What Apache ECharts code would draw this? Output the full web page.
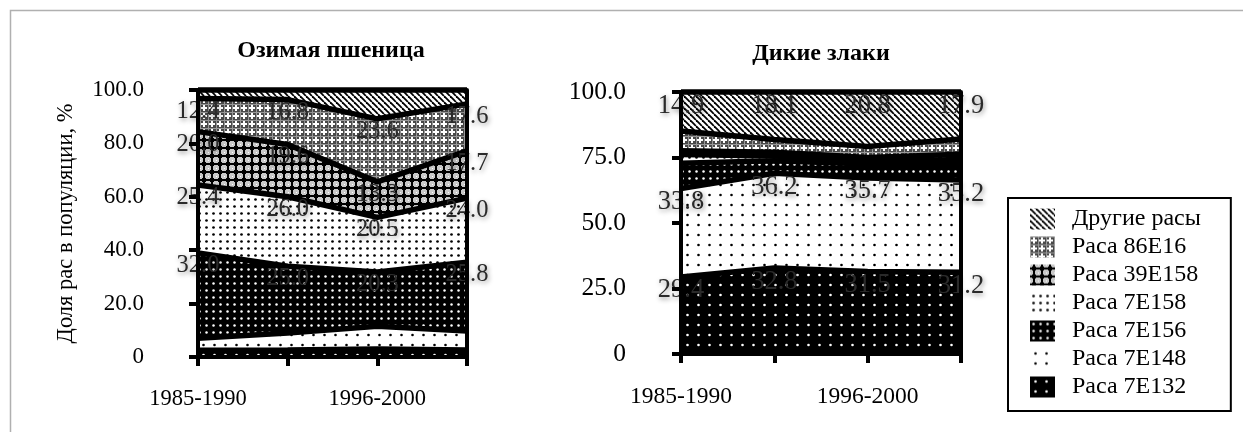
<!DOCTYPE html>
<html>
<head>
<meta charset="utf-8">
<script src="https://cdn.jsdelivr.net/npm/echarts@6/dist/echarts.min.js"></script>
<style>
html,body{margin:0;padding:0;background:#fff;}
#chart{width:1243px;height:432px;}
</style>
</head>
<body>
<div id="chart"></div>
<script>
// ---- data ----
const categories = ['1985-1990', '1991-1995', '1996-2000', '2001-2005'];
const seriesNames = ['Раса 7E132', 'Раса 7E148', 'Раса 7E156', 'Раса 7E158', 'Раса 39E158', 'Раса 86E16', 'Другие расы'];
const legendOrder = ['Другие расы', 'Раса 86E16', 'Раса 39E158', 'Раса 7E158', 'Раса 7E156', 'Раса 7E148', 'Раса 7E132'];

// Озимая пшеница
const wheat7E132 = [2.5, 2.6, 3.0, 2.6];
const wheat7E148 = [4.5, 6.4, 8.5, 7.1];
const wheat7E156 = [32.0, 25.0, 20.3, 25.8];
const wheat7E158 = [25.4, 26.0, 20.5, 24.0];
const wheat39E158 = [20.0, 19.6, 13.3, 17.7];
const wheat86E16 = [12.4, 16.8, 23.6, 17.6];
const wheatOther = [3.2, 3.6, 10.8, 5.2];

// Дикие злаки
const wild7E132 = [29.4, 32.8, 31.5, 31.2];
const wild7E148 = [33.8, 36.2, 35.7, 35.2];
const wild7E156 = [9.6, 4.8, 5.3, 5.8];
const wild7E158 = [3.3, 1.8, 1.0, 2.0];
const wild39E158 = [1.5, 1.4, 1.5, 2.0];
const wild86E16 = [7.5, 4.9, 4.2, 5.9];
const wildOther = [14.9, 18.1, 20.8, 17.9];

const leftTicks = [0, 20, 40, 60, 80, 100];
const rightTicks = [0, 25, 50, 75, 100];

const titleLeft = 'Озимая пшеница';
const titleRight = 'Дикие злаки';
const yName = 'Доля рас в популяции, %';

// ---- patterns ----
function pat(w, h, draw) {
  const c = document.createElement('canvas');
  c.width = w; c.height = h;
  const g = c.getContext('2d');
  draw(g, w, h);
  return { image: c, repeat: 'repeat' };
}
function dots(bg, fg, w, h, r, pts) {
  return pat(w, h, (g) => {
    g.fillStyle = bg; g.fillRect(0, 0, w, h);
    g.fillStyle = fg;
    pts.forEach(p => { g.beginPath(); g.arc(p[0], p[1], r, 0, Math.PI * 2); g.fill(); });
  });
}
const patterns = {
  'Раса 7E132': dots('#000', '#fff', 11, 10, 1.3, [[5.5, 5]]),
  'Раса 7E148': dots('#fff', '#000', 11, 10, 1.3, [[5.5, 5]]),
  'Раса 7E156': dots('#000', '#fff', 7, 7, 1.25, [[3.5, 3.5]]),
  'Раса 7E158': dots('#fff', '#000', 7, 7, 1.35, [[3.5, 3.5]]),
  'Раса 39E158': pat(8, 8, (g) => {
    g.fillStyle = '#c8c8c8'; g.fillRect(0, 0, 8, 8);
    g.fillStyle = '#000';
    g.fillRect(3, 0, 2, 8); g.fillRect(0, 3, 8, 2);
    g.fillRect(2, 2, 4, 4);
    g.fillStyle = '#fff'; g.fillRect(0, 0, 1, 1);
  }),
  'Раса 86E16': pat(8, 8, (g) => {
    g.fillStyle = '#4a4a4a'; g.fillRect(0, 0, 8, 8);
    g.fillStyle = '#fff';
    g.fillRect(3, 1, 2, 6); g.fillRect(1, 3, 6, 2);
    g.fillStyle = '#999'; g.fillRect(0, 0, 1, 8); g.fillRect(0, 0, 8, 1);
  }),
  'Другие расы': pat(6, 6, (g) => {
    g.fillStyle = '#fff'; g.fillRect(0, 0, 6, 6);
    g.strokeStyle = '#000'; g.lineWidth = 1.8;
    [-6, 0, 6].forEach(o => { g.beginPath(); g.moveTo(o, 0); g.lineTo(o + 6, 6); g.stroke(); });
  })
};

const FONT = '"Liberation Serif", "Times New Roman", serif';

function buildSeries(idx, dataList, labelled, labelSize) {
  const out = [];
  const lines = [];
  seriesNames.forEach((name, i) => {
    out.push({
      type: 'line', name: name, xAxisIndex: idx, yAxisIndex: idx * 2,
      stack: 'area' + idx, data: dataList[i], symbol: 'none', clip: false,
      lineStyle: { width: 0, opacity: 0 },
      itemStyle: { color: patterns[name] },
      areaStyle: { color: patterns[name], opacity: 1 },
      z: 2, silent: true, animation: false
    });
    lines.push({
      type: 'line', name: name + ' (граница)', xAxisIndex: idx, yAxisIndex: idx * 2,
      stack: 'line' + idx, data: dataList[i], symbol: 'circle', symbolSize: 0.1,
      showSymbol: true, clip: false,
      lineStyle: { color: '#000', width: 5.5 },
      itemStyle: { color: '#000' },
      label: {
        show: labelled[i], position: 'bottom', distance: 0,
        fontFamily: FONT, fontSize: labelSize, color: '#2a2a2a',
        textShadowColor: 'rgba(0,0,0,0.45)', textShadowBlur: 5,
        textShadowOffsetX: 1, textShadowOffsetY: 2,
        formatter: p => Number(p.value).toFixed(1)
      },
      z: 4, silent: true, animation: false
    });
  });
  return out.concat(lines);
}

const wheatData = [wheat7E132, wheat7E148, wheat7E156, wheat7E158, wheat39E158, wheat86E16, wheatOther];
const wildData = [wild7E132, wild7E148, wild7E156, wild7E158, wild39E158, wild86E16, wildOther];

function xAxis(gi, fs, margin) {
  return {
    type: 'category', gridIndex: gi, data: categories, boundaryGap: false, z: 10,
    axisLine: { lineStyle: { color: '#000', width: 4 } },
    axisTick: { show: true, interval: 0, length: 9, lineStyle: { color: '#000', width: 4 } },
    axisLabel: { interval: 1, margin: margin, fontFamily: FONT, fontSize: fs, color: '#000' },
    splitLine: { show: false }
  };
}
function yAxis(gi, ticks, withName, fs, margin) {
  const step = ticks[1] - ticks[0];
  const a = {
    type: 'value', gridIndex: gi, min: ticks[0], max: ticks[ticks.length - 1], interval: step, z: 10,
    axisLine: { show: true, lineStyle: { color: '#000', width: 4 } },
    axisTick: { show: true, length: 9, lineStyle: { color: '#000', width: 4 } },
    axisLabel: { margin: margin, fontFamily: FONT, fontSize: fs, color: '#000',
      formatter: v => v === 0 ? '0' : v.toFixed(1) },
    splitLine: { show: false }
  };
  if (withName) {
    a.name = yName; a.nameLocation = 'middle'; a.nameGap = 120;
    a.nameTextStyle = { fontFamily: FONT, fontSize: 22.5, color: '#000' };
  }
  return a;
}
function yRight(gi, ticks) {
  return {
    type: 'value', gridIndex: gi, position: 'right', min: ticks[0], max: ticks[ticks.length - 1], z: 10,
    axisLine: { show: true, lineStyle: { color: '#000', width: 4 } },
    axisTick: { show: false }, axisLabel: { show: false }, splitLine: { show: false }
  };
}

const chart = echarts.init(document.getElementById('chart'), null, { renderer: 'canvas' });
chart.setOption({
  animation: false,
  backgroundColor: '#fff',
  grid: [
    { left: 198, top: 90, width: 269, height: 267 },
    { left: 681, top: 92, width: 280, height: 262 }
  ],
  xAxis: [xAxis(0, 22.5, 31), xAxis(1, 23.5, 31)],
  yAxis: [yAxis(0, leftTicks, true, 23, 54), yRight(0, leftTicks),
          yAxis(1, rightTicks, false, 25.5, 55), yRight(1, rightTicks)],
  legend: {
    data: legendOrder, orient: 'vertical', left: 1008, top: 198,
    icon: 'rect', itemWidth: 25, itemHeight: 21, itemGap: 4,
    padding: [9, 30, 12, 22],
    borderColor: '#000', borderWidth: 2,
    selectedMode: false,
    itemStyle: { borderWidth: 0 },
    textStyle: { fontFamily: FONT, fontSize: 24, color: '#000', lineHeight: 24, padding: [0, 0, 0, 12] }
  },
  graphic: [
    { type: 'rect', shape: { x: 10.5, y: 10.5, width: 1400, height: 600 },
      style: { fill: 'none', stroke: '#b0b0b0', lineWidth: 1.5 }, silent: true, z: 0 },
    { type: 'text', x: 331, y: 51, style: { text: titleLeft, font: 'bold 24px ' + FONT,
      align: 'center', verticalAlign: 'middle', fill: '#000' } },
    { type: 'text', x: 821, y: 54, style: { text: titleRight, font: 'bold 24px ' + FONT,
      align: 'center', verticalAlign: 'middle', fill: '#000' } }
  ],
  series: buildSeries(0, wheatData, [false, false, true, true, true, true, false], 24.5)
    .concat(buildSeries(1, wildData, [true, true, false, false, false, false, true], 26.5))
});
</script>
</body>
</html>
